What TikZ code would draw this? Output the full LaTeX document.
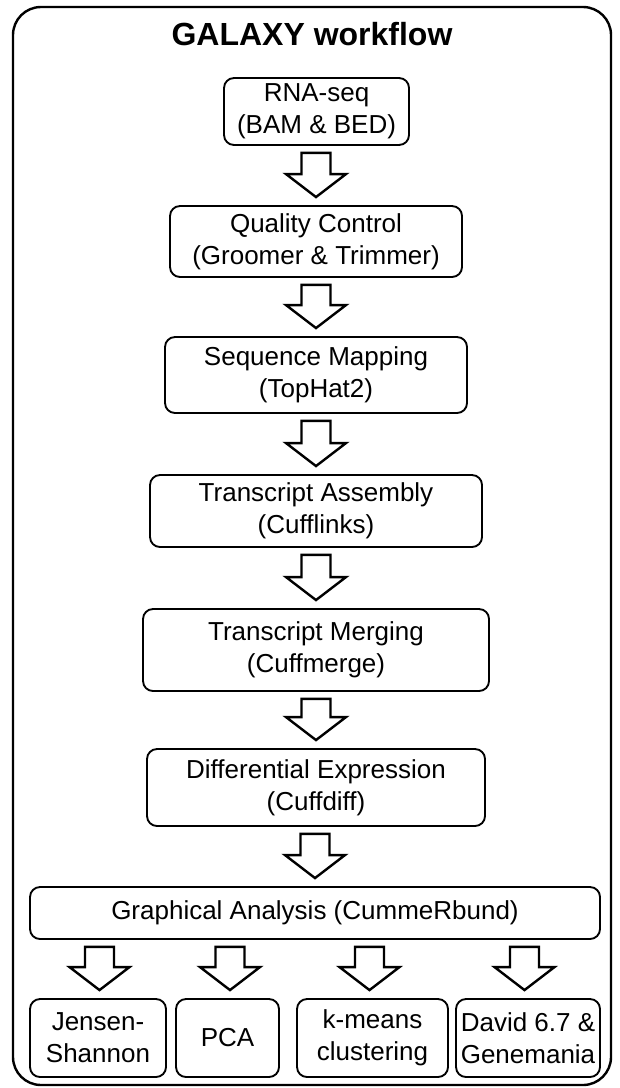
\documentclass[tikz,border=0pt]{standalone}
\usepackage{fontspec}
\setmainfont{Liberation Sans}
\usetikzlibrary{calc}

% hollow block arrow from the bottom of box #2 to the top of box #3, shifted sideways by #1
\newcommand\flowarrow[3][0]{%
    \path ($(#2.south -| #3.north)+(#1,7)$) coordinate (shafttop)
          ($(#3.north)+(#1,-8)$) coordinate (tip)
          ($(tip)+(0,-23)$) coordinate (headbase);
    \draw [blockarrow] ($(shafttop)+(-14.5,0)$) -- ($(shafttop)+(14.5,0)$) -- ($(headbase)+(14.5,0)$) -- ($(headbase)+(30,0)$) -- (tip) -- ($(headbase)+(-30,0)$) -- ($(headbase)+(-14.5,0)$) -- cycle ;}

\begin{document}
\begin{tikzpicture}[x=0.75pt,y=0.75pt,yscale=-1,xscale=1,
    stepbox/.style={draw, line width=1.4pt, rounded corners=7.5pt, align=center, inner sep=0pt,
        font=\fontsize{19.5}{24}\selectfont},
    blockarrow/.style={draw, line width=1.8pt, line join=miter, fill=white},
    frame/.style={draw, line width=1.8pt, rounded corners=21pt}]
    \useasboundingbox (0,0) rectangle (620,1088);

    %Shape: Outer frame
    \draw [frame] (13,7) rectangle (611,1085) ;

    % Text Node
    \node [font=\fontsize{24}{28}\selectfont\bfseries] (title) at (312,34) {GALAXY workflow};

    %Shape: Pipeline boxes
    \node [stepbox, minimum width=138.75pt, minimum height=50.25pt] (rnaseq) at (316.5,111.5) {RNA-seq\\(BAM \& BED)};
    \node [stepbox, minimum width=219pt, minimum height=53.25pt] (quality) at (316,241.5) {Quality Control\\(Groomer \& Trimmer)};
    \node [stepbox, minimum width=226.5pt, minimum height=57pt] (mapping) at (316,375) {Sequence Mapping\\(TopHat2)};
    \node [stepbox, minimum width=249pt, minimum height=54pt] (assembly) at (316,511) {Transcript Assembly\\(Cufflinks)};
    \node [stepbox, minimum width=259.5pt, minimum height=61.5pt] (merging) at (316,650) {Transcript Merging\\(Cuffmerge)};
    \node [stepbox, minimum width=253.5pt, minimum height=57.75pt] (diffexpr) at (316,787.5) {Differential Expression\\(Cuffdiff)};
    \node [stepbox, minimum width=427.5pt, minimum height=39pt] (graphical) at (315,913) {Graphical Analysis (CummeRbund)};

    %Shape: Analysis boxes
    \node [stepbox, minimum width=102pt, minimum height=58.5pt] (jensen) at (98,1038) {Jensen-\\Shannon};
    \node [stepbox, minimum width=77.25pt, minimum height=58.5pt] (pca) at (227.5,1038) {PCA};
    \node [stepbox, minimum width=113.25pt, minimum height=58.5pt] (kmeans) at (372.5,1038) {k-means\\clustering};
    \node [stepbox, minimum width=108pt, minimum height=58.5pt] (david) at (528,1038) {David 6.7 \&\\Genemania};

    %Shape: Block arrows
    \flowarrow{rnaseq}{quality}
    \flowarrow{quality}{mapping}
    \flowarrow{mapping}{assembly}
    \flowarrow{assembly}{merging}
    \flowarrow{merging}{diffexpr}
    \flowarrow{diffexpr}{graphical}
    \flowarrow[1.5]{graphical}{jensen}
    \flowarrow[2.5]{graphical}{pca}
    \flowarrow[-3]{graphical}{kmeans}
    \flowarrow[-3.5]{graphical}{david}

\end{tikzpicture}
\end{document}
